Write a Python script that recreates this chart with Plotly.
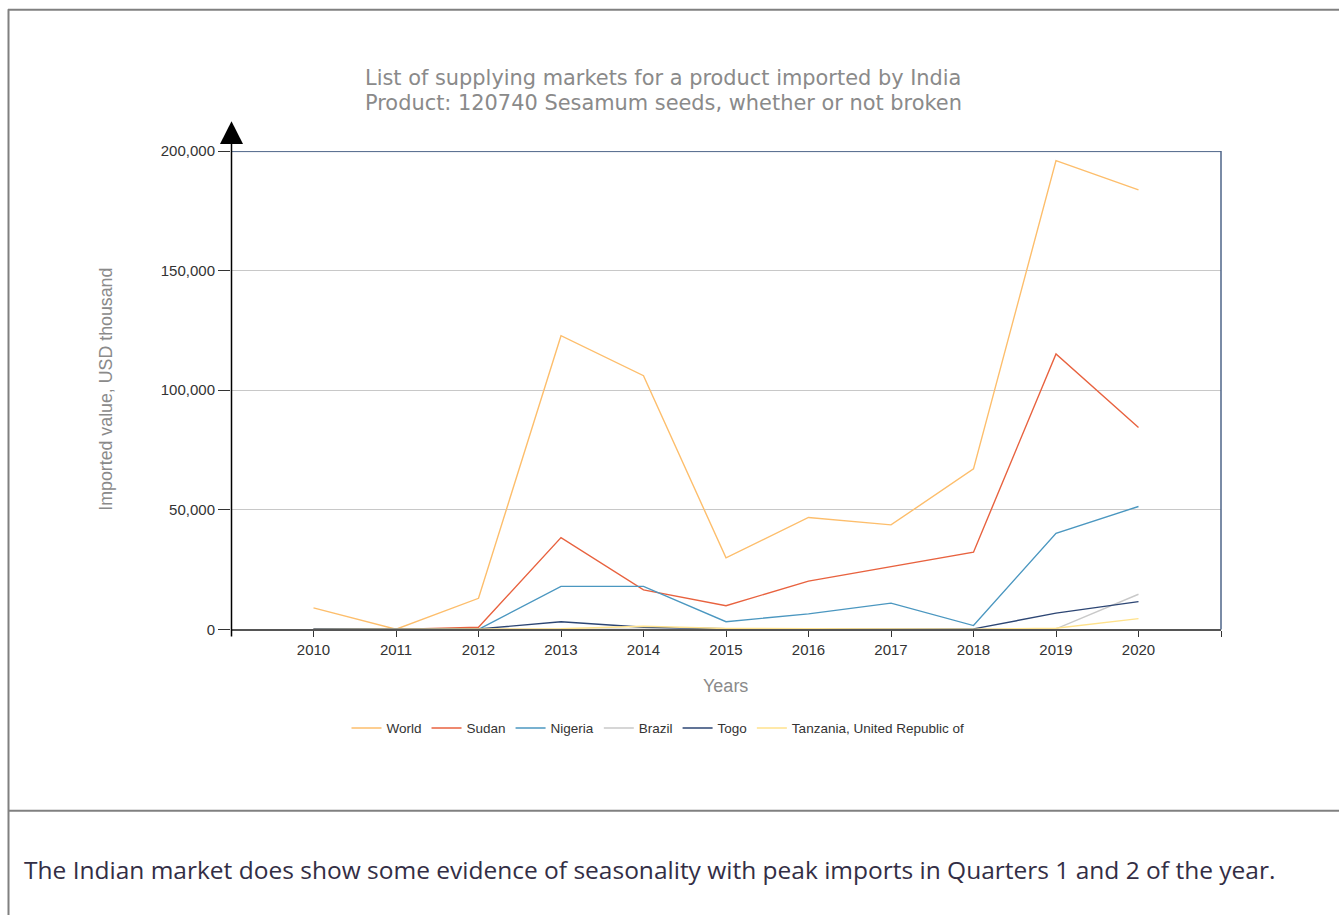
import plotly.graph_objects as go

# ---- data ----
years = [2010, 2011, 2012, 2013, 2014, 2015, 2016, 2017, 2018, 2019, 2020]
world = [9000, 100, 13000, 122800, 106100, 29900, 46800, 43700, 67100, 196000, 183800]
sudan = [0, 0, 900, 38400, 16500, 9900, 20200, 26200, 32300, 115200, 84400]
nigeria = [0, 0, 0, 18000, 18000, 3200, 6500, 11000, 1600, 40200, 51400]
brazil = [0, 0, 0, 0, 0, 0, 0, 0, 0, 200, 14700]
togo = [200, 200, 200, 3200, 900, 300, 100, 100, 200, 6800, 11600]
tanzania = [0, 0, 0, 300, 1300, 400, 300, 200, 100, 500, 4500]

series_names = ["World", "Sudan", "Nigeria", "Brazil", "Togo", "Tanzania, United Republic of"]
series_values = [world, sudan, nigeria, brazil, togo, tanzania]
series_colors = ["#FDBE6C", "#E8623F", "#4B97C0", "#C9C9C9", "#2D4674", "#FFE28C"]

y_ticks = [0, 50000, 100000, 150000, 200000]
x_ticks = years + [2021]
x_ticktext = [str(y) for y in years] + [""]

title_line1 = "List of supplying markets for a product imported by India"
title_line2 = "Product: 120740 Sesamum seeds, whether or not broken"
note_text = "The Indian market does show some evidence of seasonality with peak imports in Quarters 1 and 2 of the year."

W, H = 1339, 923
# vertical compensation for the page's rendered offset/scale
OFF, SC = 7.7, 0.983
def px(x):
    return x / W
def py(y):
    yi = (y - OFF) / SC
    return 1 - yi / H

fig = go.Figure()
for name, vals, col in zip(series_names, series_values, series_colors):
    fig.add_trace(go.Scatter(x=years, y=vals, name=name, mode="lines",
                             line=dict(color=col, width=1.4)))

tickfont = dict(family="Liberation Sans", size=15, color="#333333")
fig.update_layout(
    width=W, height=H, autosize=False,
    margin=dict(l=0, r=0, t=0, b=0),
    paper_bgcolor="white", plot_bgcolor="white",
    showlegend=True,
    legend=dict(orientation="h", x=px(658), xanchor="center", y=py(728), yanchor="middle",
                font=dict(family="Liberation Sans", size=13.5, color="#333333"),
                itemwidth=30, tracegroupgap=0, bgcolor="rgba(0,0,0,0)"),
    xaxis=dict(domain=[px(231), px(1221)], range=[2009, 2021],
               tickvals=x_ticks, ticktext=x_ticktext,
               ticks="outside", ticklen=6, tickcolor="#333333", tickwidth=1,
               showline=True, linecolor="#555555", linewidth=2,
               showgrid=False, zeroline=False, tickfont=tickfont),
    yaxis=dict(domain=[py(629), py(150)], range=[0, 200000],
               tickvals=y_ticks, tickformat=",",
               ticks="outside", ticklen=12, tickcolor="#333333", tickwidth=1,
               showline=False, showgrid=True, gridcolor="#C8C8C8", gridwidth=1,
               zeroline=False, tickfont=tickfont),
)

shapes = []
# outer frame
shapes.append(dict(type="line", xref="paper", yref="paper", x0=px(8.5), y0=0, x1=px(8.5), y1=py(8),
                   line=dict(color="#808080", width=2)))
shapes.append(dict(type="line", xref="paper", yref="paper", x0=px(8), y0=py(8.5), x1=1, y1=py(8.5),
                   line=dict(color="#808080", width=2)))
shapes.append(dict(type="line", xref="paper", yref="paper", x0=px(8), y0=py(810.5), x1=1, y1=py(810.5),
                   line=dict(color="#808080", width=2)))
# plot top / right border
shapes.append(dict(type="line", xref="paper", yref="paper", x0=px(231), y0=py(150.5), x1=px(1221), y1=py(150.5),
                   line=dict(color="#4E6588", width=1)))
shapes.append(dict(type="line", xref="paper", yref="paper", x0=px(1221), y0=py(150), x1=px(1221), y1=py(629),
                   line=dict(color="#4E6588", width=1.5)))
# y axis line with arrow
shapes.append(dict(type="line", xref="paper", yref="paper", x0=px(231.5), y0=py(636), x1=px(231.5), y1=py(138),
                   line=dict(color="#000000", width=1.5)))
shapes.append(dict(type="path", xref="paper", yref="paper",
                   path=f"M {px(231.5)},{py(120)} L {px(220)},{py(143)} L {px(243)},{py(143)} Z",
                   fillcolor="#000000", line=dict(color="#000000", width=0)))
fig.update_layout(shapes=shapes)

title_font = dict(family="DejaVu Sans", size=20.9, color="#8A8A8A")
annotations = [
    dict(text=title_line1, xref="paper", yref="paper", x=px(363), y=py(77),
         xanchor="left", yanchor="middle", showarrow=False, font=title_font),
    dict(text=title_line2, xref="paper", yref="paper", x=px(363), y=py(102),
         xanchor="left", yanchor="middle", showarrow=False, font=title_font),
    dict(text="Imported value, USD thousand", xref="paper", yref="paper",
         x=px(106), y=py(389), xanchor="center", yanchor="middle", textangle=-90,
         showarrow=False, font=dict(family="Liberation Sans", size=17.8, color="#8A8A8A")),
    dict(text="Years", xref="paper", yref="paper", x=px(725), y=py(686),
         xanchor="center", yanchor="middle", showarrow=False,
         font=dict(family="Liberation Sans", size=18, color="#8A8A8A")),
    dict(text=note_text, xref="paper", yref="paper", x=px(22), y=py(869), xanchor="left", yanchor="middle",
         showarrow=False, font=dict(family="Open Sans", size=24.5, color="#332E45")),
]
fig.update_layout(annotations=annotations)

fig.write_html("out.html")
